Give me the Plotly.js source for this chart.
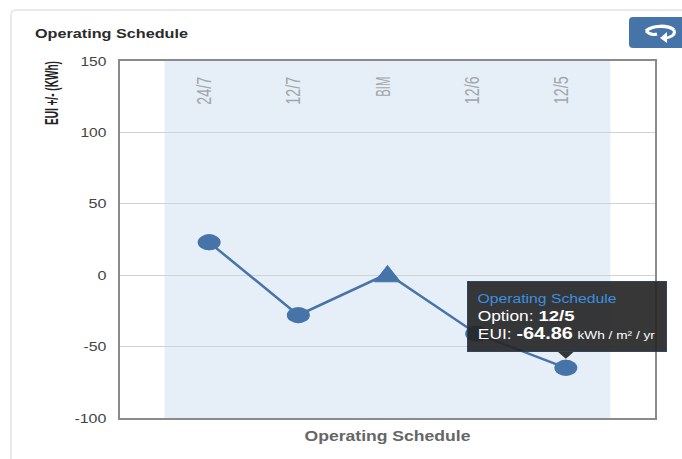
<!DOCTYPE html>
<html>
<head>
<meta charset="utf-8">
<script src="https://cdn.plot.ly/plotly-3.0.1.min.js"></script>
<style>
html,body{margin:0;padding:0;background:#fff;width:682px;height:459px;overflow:hidden}
#card{position:absolute;left:10px;top:9px;width:700px;height:480px;border:2px solid #e9e9e9;border-radius:6px;box-sizing:border-box}
#chart{position:absolute;left:0;top:0;width:682px;height:459px}
#btn{position:absolute;left:629px;top:17px;width:60px;height:31px;background:#4674a8;border-radius:4px}
#btn svg{position:absolute;left:13px;top:5px}
</style>
</head>
<body>
<div id="card"></div>
<div id="chart"></div>
<div id="btn"><svg width="40" height="22" viewBox="0 0 40 22"><path d="M4 9 C10 3 26 3 32 8" fill="none" stroke="#fff" stroke-width="3.5"/><path d="M4 9 C8 13 12 13 15 12" fill="none" stroke="#fff" stroke-width="3"/><path d="M32 8 C34 13 28 16 22 16" fill="none" stroke="#fff" stroke-width="3"/><path d="M25 10 L18 16 L25 21 Z" fill="#fff"/></svg></div>
<script>
var categories = ['24/7', '12/7', 'BIM', '12/6', '12/5'];
var euiValues = [23, -28, 1, -41, -64.86];
var markerSymbols = ['circle', 'circle', 'triangle-up', 'circle', 'circle'];
var markerSizes = [16, 16, 18, 16, 16];
var yTicks = [-100, -50, 0, 50, 100, 150];
var xPositions = categories.map(function (c, i) { return i; });
var blue = '#4674a8';
var sans = '"Liberation Sans",Arial,sans-serif';
var tipFill = 'rgba(38,38,38,0.92)';

var shapes = [{
  type: 'rect', layer: 'below', xref: 'x', yref: 'paper',
  x0: -0.5, x1: 4.5, y0: 0, y1: 1,
  fillcolor: '#e6eff7', line: { width: 0 }
}];
categories.forEach(function (c, i) {
  if (markerSymbols[i] === 'circle') {
    shapes.push({
      type: 'circle', xref: 'x', yref: 'y',
      xsizemode: 'pixel', ysizemode: 'pixel',
      xanchor: i, yanchor: euiValues[i],
      x0: -11.5, x1: 11.5, y0: -8, y1: 8,
      fillcolor: blue, line: { width: 0 }
    });
  } else {
    shapes.push({
      type: 'path', xref: 'x', yref: 'y',
      xsizemode: 'pixel', ysizemode: 'pixel',
      xanchor: i, yanchor: euiValues[i],
      path: 'M -13 -8 L 13 -8 L 0 7.5 Z',
      fillcolor: blue, line: { color: blue, width: 1 }
    });
  }
});
shapes.push({
  type: 'path', xref: 'x', yref: 'y',
  xsizemode: 'pixel', ysizemode: 'pixel',
  xanchor: 4, yanchor: euiValues[4],
  path: 'M -8 16 L 8 16 L 0 9 Z',
  fillcolor: tipFill, line: { width: 0 }
});

var annotations = categories.map(function (c, i) {
  var len = c === 'BIM' ? 20 : 28;
  return {
    x: i, xref: 'x', y: 1, yref: 'paper', yanchor: 'middle', xanchor: 'center',
    xshift: -5.5, yshift: -(15.5 + len / 2),
    text: c, showarrow: false, textangle: -90, name: 'fit:' + len,
    font: { family: sans, size: 20, color: '#a2a6aa' }
  };
});
annotations.push({
  x: 4, xref: 'x', y: euiValues[4], yref: 'y',
  xanchor: 'left', yanchor: 'bottom', xshift: -99, yshift: 16,
  width: 198, height: 69, text: ' ', showarrow: false,
  bgcolor: tipFill, bordercolor: 'rgba(40,60,90,0.9)', borderwidth: 1, borderpad: 0
});
function tipLine(text, size, yshift, len) {
  return {
    x: 4, xref: 'x', y: euiValues[4], yref: 'y',
    xanchor: 'center', yanchor: 'middle', xshift: -88 + len / 2, yshift: yshift,
    text: text, showarrow: false, name: 'fit:' + len, borderpad: 0,
    font: { family: sans, size: size, color: '#ffffff' }
  };
}
annotations.push(tipLine('<span style="color:#3c8fe0">Operating Schedule</span>', 12, 69, 139));
annotations.push(tipLine('Option: <b style="font-size:15px">12/5</b>', 14, 52, 97));
annotations.push(tipLine('EUI: <b style="font-size:16px">-64.86</b> <span style="font-size:11px">kWh / m² / yr</span>', 14, 34, 177));
annotations.push({
  xref: 'paper', yref: 'paper', x: 0, y: 1, xanchor: 'center', yanchor: 'middle', yshift: -32.5, xshift: -69,
  text: 'EUI +/- (KWh)', showarrow: false, textangle: -90, name: 'fit:64',
  font: { family: sans, size: 19, weight: 700, color: '#222222' }
});

var trace = {
  type: 'scatter', mode: 'lines+markers',
  x: xPositions, y: euiValues,
  line: { color: blue, width: 2.5 },
  marker: { color: blue, opacity: 1, symbol: markerSymbols, size: markerSizes, line: { width: 0 } },
  hoverinfo: 'skip'
};

var layout = {
  width: 682, height: 459,
  paper_bgcolor: 'rgba(0,0,0,0)', plot_bgcolor: 'rgba(255,255,255,0)',
  showlegend: false,
  margin: { l: 119.5, r: 27, t: 61, b: 41 },
  title: {
    text: 'Operating Schedule', x: 35 / 682, xanchor: 'left', xref: 'container',
    y: 1 - 33 / 459, yanchor: 'middle',
    font: { family: sans, size: 13, weight: 700, color: '#2b2b2b' }
  },
  xaxis: {
    range: [-1, 5], showgrid: false, zeroline: false, showticklabels: false, ticks: '',
    showline: true, linecolor: '#8a8a8a', linewidth: 2, mirror: true,
    title: {
      text: 'Operating Schedule', standoff: 12,
      font: { family: sans, size: 14, weight: 700, color: '#666666' }
    }
  },
  yaxis: {
    range: [-100, 150], tickvals: yTicks, ticktext: yTicks.map(String),
    showgrid: true, gridcolor: '#cfd2d5', gridwidth: 1, zeroline: false,
    showline: true, linecolor: '#8a8a8a', linewidth: 2, mirror: true, ticks: '',
    ticklabelstandoff: 9,
    tickfont: { family: sans, size: 13, color: '#444444' }
  },
  shapes: shapes,
  annotations: annotations
};

// The reference's text is stretched; fit real SVG text to the measured lengths.
function fit(node, len) {
  node.setAttribute('textLength', len);
  node.setAttribute('lengthAdjust', 'spacingAndGlyphs');
}
Plotly.newPlot('chart', [trace], layout, { displayModeBar: false, staticPlot: true }).then(function (gd) {
  gd.querySelectorAll('.annotation').forEach(function (g) {
    var i = +g.getAttribute('data-index');
    var nm = annotations[i].name;
    var t = g.querySelector('text');
    if (nm && t) fit(t, +nm.split(':')[1]);
  });
  fit(gd.querySelector('.gtitle'), 153);
  fit(gd.querySelector('.g-xtitle text'), 166);
  gd.querySelectorAll('.ytick text').forEach(function (t) {
    var s = t.textContent;
    fit(t, s.length === 1 ? 9 : s.length === 2 ? 18 : s === '-50' ? 23 : s.length === 3 ? 26 : 32);
  });
});
</script>
</body>
</html>
